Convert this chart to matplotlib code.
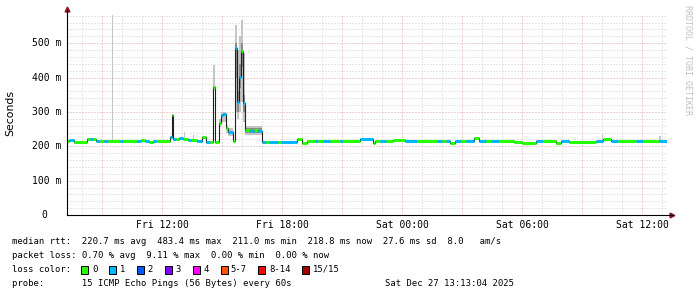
import matplotlib
matplotlib.use("Agg")
from matplotlib import pyplot as plt
from matplotlib.patches import Rectangle
from matplotlib import transforms

# median rtt, one entry per step: start (hours since Fri 00:00), median in ms, loss bucket
seg_hour = [7.25, 7.35, 7.45, 7.60, 8.25, 8.40, 8.55, 8.70, 8.90, 9.10,
            9.30, 9.90, 10.05, 10.75, 10.95, 11.15, 11.35, 11.55, 11.75, 12.40,
            12.50, 12.55, 12.70, 12.85, 13.05, 13.30, 13.45, 13.75, 14.00, 14.20,
            14.40, 14.55, 14.65, 14.85, 14.95, 15.05, 15.20, 15.30, 15.55, 15.65,
            15.75, 15.85, 15.95, 16.05, 16.15, 16.40, 16.60, 16.80, 17.00, 17.20,
            17.35, 17.80, 17.95, 18.75, 19.00, 19.25, 19.65, 19.80, 20.05, 20.40,
            20.90, 21.05, 21.90, 22.55, 22.65, 22.90, 23.20, 23.55, 23.90, 24.15,
            24.75, 25.75, 26.00, 26.20, 26.40, 26.65, 26.95, 27.20, 27.60, 27.85,
            28.20, 28.45, 28.85, 29.60, 30.00, 30.70, 31.05, 31.70, 31.95, 32.35,
            33.70, 34.05, 34.45, 34.80, 35.70, 36.05, 36.85]
seg_med = [216, 217, 219, 213, 221, 221, 220, 216, 216, 215,
           216, 216, 216, 215, 217, 214, 212, 216, 215, 228,
           291, 220, 222, 224, 221, 219, 219, 215, 226, 213,
           213, 372, 213, 267, 291, 294, 253, 242, 215, 485,
           329, 402, 477, 325, 247, 245, 248, 243, 212, 212,
           212, 212, 212, 221, 210, 215, 215, 215, 214, 214,
           214, 214, 221, 209, 214, 214, 214, 218, 217, 214,
           214, 215, 215, 215, 210, 216, 214, 216, 224, 215,
           215, 214, 216, 212, 210, 215, 215, 209, 214, 213,
           216, 221, 215, 214, 215, 215, 216]
seg_loss = [0, 1, 1, 0, 0, 1, 0, 1, 0, 1,
            0, 1, 0, 1, 0, 1, 0, 1, 0, 1,
            0, 1, 0, 1, 0, 1, 0, 1, 0, 1,
            0, 0, 0, 0, 1, 1, 0, 1, 0, 1,
            1, 1, 0, 1, 0, 1, 0, 1, 1, 0,
            1, 0, 1, 0, 0, 0, 1, 0, 1, 0,
            1, 0, 1, 0, 0, 1, 0, 0, 0, 1,
            0, 1, 0, 1, 0, 1, 0, 1, 0, 1,
            0, 1, 0, 0, 0, 1, 0, 0, 1, 0,
            1, 0, 1, 0, 1, 0, 1]
end_hour = 37.25

# smoke (spread of the single pings): start, end, low ms, high ms
smoke_start = [9.50, 13.10, 13.55, 14.55, 14.85, 14.95, 15.20, 15.30, 15.65, 15.75,
               15.85, 15.95, 16.05, 16.15, 34.00, 36.85]
smoke_end = [9.55, 13.15, 13.60, 14.65, 14.95, 15.20, 15.30, 15.55, 15.75, 15.85,
             15.95, 16.05, 16.15, 17.00, 34.05, 36.95]
smoke_lo = [216, 218, 215, 372, 255, 270, 240, 230, 300, 280,
            300, 330, 270, 232, 215, 214]
smoke_hi = [600, 241, 232, 436, 280, 300, 262, 252, 552, 480,
            520, 567, 470, 260, 232, 230]
# denser core of the smoke
core_start = [15.65, 15.75, 15.85, 15.95, 16.05, 16.15]
core_end = [15.75, 15.85, 15.95, 16.05, 16.15, 17.00]
core_lo = [400, 300, 370, 430, 300, 238]
core_hi = [500, 360, 440, 500, 350, 254]

loss_names = ["0", "1", "2", "3", "4", "5-7", "8-14", "15/15"]
loss_colors = ["#26ff00", "#00b8ff", "#0059ff", "#7e00ff", "#ff00fe", "#ff5500", "#ff0000", "#a10000"]

y_ticks = [0, 100, 200, 300, 400, 500]
x_label_hours = [12, 18, 24, 30, 36]
x_labels = ["Fri 12:00", "Fri 18:00", "Sat 00:00", "Sat 06:00", "Sat 12:00"]

W, H = 697, 297
MONO = "DejaVu Sans Mono"

fig = plt.figure(figsize=(W / 100, H / 100), dpi=100)
fig.patch.set_facecolor("white")
ax = fig.add_axes([67 / W, 1 - 215 / H, 600 / W, 200 / H])
ax.set_xlim(7.25, 37.25)
ax.set_ylim(0, 582)
for s in ax.spines.values():
    s.set_visible(False)
ax.tick_params(which="both", length=0, labelbottom=False, labelleft=False)

# grid: hours / 3 hours, 20 ms / 100 ms
ax.set_xticks([h for h in range(9, 38, 3)])
ax.set_xticks([h for h in range(8, 38)], minor=True)
ax.set_yticks(list(range(100, 600, 100)))
ax.set_yticks(list(range(20, 582, 20)), minor=True)
ax.grid(which="minor", color="#cfcfcf", linestyle=(0, (1, 2)), linewidth=0.72)
ax.grid(which="major", color="#e3a5a5", linestyle=(0, (1, 2)), linewidth=0.72)
ax.set_axisbelow(True)

# smoke
for a, b, lo, hi in zip(smoke_start, smoke_end, smoke_lo, smoke_hi):
    ax.fill_between([a, b], lo, hi, color="#c4c4c4", linewidth=0, zorder=2)
for a, b, lo, hi in zip(core_start, core_end, core_lo, core_hi):
    ax.fill_between([a, b], lo, hi, color="#8a8a8a", linewidth=0, zorder=2)

# median line: thin dark steps, thick colour by loss
xs = seg_hour + [end_hour]
ys = seg_med + [seg_med[-1]]
ax.step(xs, ys, where="post", color="#202020", linewidth=0.8, zorder=3)
seg_end = seg_hour[1:] + [end_hour]
ax.hlines(seg_med, seg_hour, seg_end, colors=[loss_colors[l] for l in seg_loss],
          linewidth=2.2, zorder=4)

# axes with arrows
ax.plot([0, 0], [0, 1.025], transform=ax.transAxes, color="black", lw=0.8, clip_on=False, zorder=5)
ax.plot([0, 1.01], [0, 0], transform=ax.transAxes, color="black", lw=0.8, clip_on=False, zorder=5)
ax.plot([0], [1.03], transform=ax.transAxes, marker="^", color="#8b1a1a", ms=3.5, clip_on=False)
ax.plot([1.008], [0], transform=ax.transAxes, marker=">", color="#8b1a1a", ms=3.5, clip_on=False)

# tick labels
ytr = transforms.blended_transform_factory(fig.transFigure, ax.transData)
for v in y_ticks:
    if v == 0:
        ax.text(47 / W, v, "0", transform=ytr, ha="right", va="center", family=MONO, fontsize=7)
    else:
        ax.text(61 / W, v, f"{v} m", transform=ytr, ha="right", va="center", family=MONO, fontsize=7)
xtr = transforms.blended_transform_factory(ax.transData, fig.transFigure)
for h, lab in zip(x_label_hours, x_labels):
    ax.text(h, 1 - 225 / H, lab, transform=xtr, ha="center", va="center", family=MONO, fontsize=7)

fig.text(10 / W, 1 - 113 / H, "Seconds", rotation=90, ha="center", va="center",
         family="DejaVu Sans", fontsize=7.8)
fig.text(688 / W, 1 - 60 / H, "RRDTOOL / TOBI OETIKER", rotation=270, ha="center", va="center",
         family=MONO, fontsize=6, color="#c0c0c0")

# legend block
def line(x, y, s):
    fig.text(x / W, 1 - y / H, s, ha="left", va="center", family=MONO, fontsize=6.4)

line(12, 241.5, "median rtt:  220.7 ms avg  483.4 ms max  211.0 ms min  218.8 ms now  27.6 ms sd  8.0   am/s")
line(12, 255.5, "packet loss: 0.70 % avg  9.11 % max  0.00 % min  0.00 % now")
line(12, 269.5, "loss color:")
line(12, 283.5, "probe:       15 ICMP Echo Pings (56 Bytes) every 60s")
line(385, 283.5, "Sat Dec 27 13:13:04 2025")

box_x = [81, 109, 137, 165, 193, 221, 258, 302]
lab_x = [92.7, 120, 147.7, 175.7, 203.3, 230.7, 269.3, 312.7]
for bx, lx, name, col in zip(box_x, lab_x, loss_names, loss_colors):
    fig.add_artist(Rectangle((bx / W, 1 - 273.5 / H), 7 / W, 8 / H, transform=fig.transFigure,
                             facecolor=col, edgecolor="black", linewidth=0.7))
    line(lx, 269.5, name)

fig.savefig("out.png", dpi=100, facecolor="white")
